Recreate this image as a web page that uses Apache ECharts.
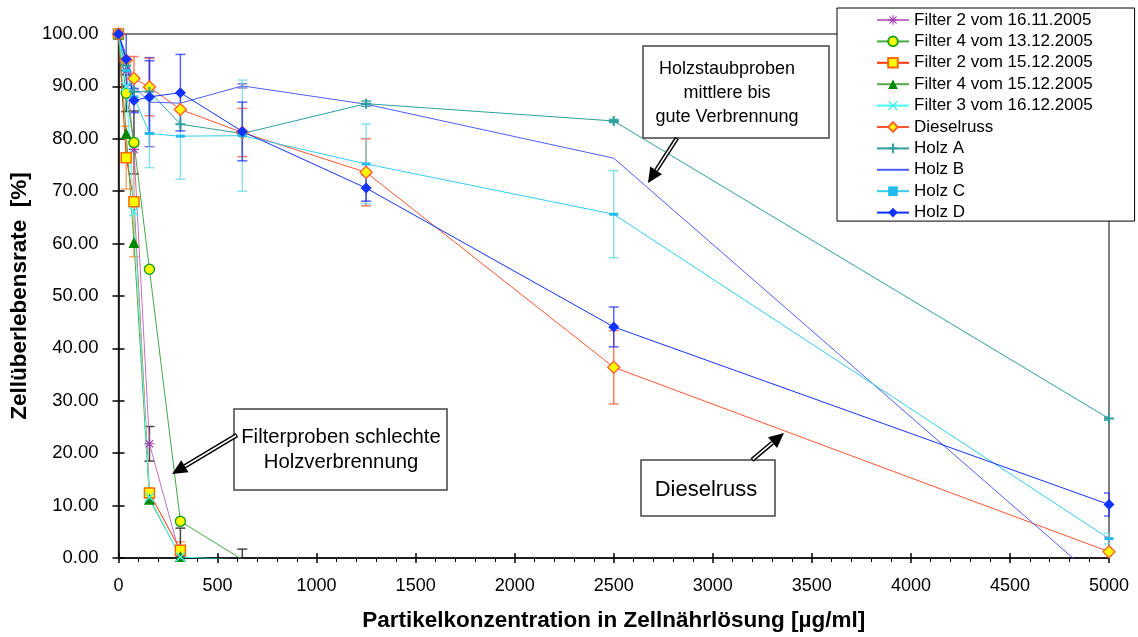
<!DOCTYPE html>
<html>
<head>
<meta charset="utf-8">
<script src="https://cdn.jsdelivr.net/npm/echarts@6/dist/echarts.min.js"></script>
<style>
  html, body { margin: 0; padding: 0; background: #fff; }
  #chart { width: 1138px; height: 637px; }
</style>
</head>
<body>
<div id="chart"></div>
<script>
// Concentrations of the dilution series [µg/ml]
const concentrations = [0, 39.0625, 78.125, 156.25, 312.5, 625, 1250, 2500, 5000];

// Cell survival rate [%] per sample
const filter2_1611 = [100, 93, 78, 21.8, 0.3];
const filter4_1312 = [100, 88.7, 79.3, 55.1, 7.0, -0.3];
const filter2_1512 = [100, 76.4, 68.0, 12.4, 1.5];
const filter4_1512 = [100, 81.0, 60.2, 11.2, 0.3];
const filter3_1612 = [100, 90, 66.1, 11.6, 0.2, -0.4];
const dieselruss   = [100, 95, 91.5, 89.9, 85.6, 81.2, 73.6, 36.4, 1.2];
const holzA        = [100, 94, 89, 89, 82.8, 81.0, 86.7, 83.4, 26.6];
const holzB        = [100, 96, 90, 87, 86.8, 90.1, 86.6, 76.3, -6];
const holzC        = [100, 93, 88, 81, 80.5, 80.6, 75.2, 65.6, 3.7];
const holzD        = [100, 95.2, 87.3, 88.0, 88.8, 81.4, 70.6, 44.1, 10.2];

// Standard deviations (null = no error bar)
const err_filter2_1611 = [5.8, null, null, 3.3, null];
const err_filter4_1312 = [null, 3.5, 6, null, null, 2.0];
const err_filter2_1512 = [null, 6, 10.5, null, 1.6];
const err_filter4_1512 = [null, null, null, null, 5.4];
const err_dieselruss   = [null, null, 4.2, 5.5, null, 4.6, 6.4, 7.0, 2.8];
const err_holzA        = [null, null, null, null, null, null, 0.5, 0.3, 0.3];
const err_holzB        = [null, null, null, 8.5, null, 0.4, null, null, null];
const err_holzC        = [null, null, null, 6.5, 8.2, 10.6, 7.6, 8.3, 1.0];
const err_holzD        = [null, 5, 2.3, 6.9, 7.3, 5.6, 2.5, 3.8, 2.2];

// Tick labels
const yTickDecimals = 2;

const pairs = (vals) => vals.map((v, i) => [concentrations[i], v]);
const errTriples = (vals, errs) =>
  errs.map((e, i) => (e == null || vals[i] == null) ? null : [concentrations[i], vals[i], e])
      .filter(d => d !== null);

// Marker shapes drawn as filled outlines
const plusPath = 'path://M4,0H6V4H10V6H6V10H4V6H0V4H4Z';
const crossPath = 'path://M1,0L5,4L9,0L10,1L6,5L10,9L9,10L5,6L1,10L0,9L4,5L0,1Z';
const starPath = 'path://M4.4,0H5.6V3.6L8.3,0.9L9.1,1.7L6.4,4.4H10V5.6H6.4L9.1,8.3L8.3,9.1L5.6,6.4V10H4.4V6.4L1.7,9.1L0.9,8.3L3.6,5.6H0V4.4H3.6L0.9,1.7L1.7,0.9L4.4,3.6Z';

function lineSeries(name, data, color, symbol, size, fill, border) {
  const noMarker = symbol === 'none';
  return {
    name, type: 'line', data: pairs(data),
    symbol: noMarker ? 'circle' : symbol, symbolSize: size, showSymbol: !noMarker,
    clip: true,
    lineStyle: { color, width: 1 },
    itemStyle: noMarker
      ? { color: 'rgba(0,0,0,0)', borderWidth: 0 }
      : { color: fill, borderColor: border || fill, borderWidth: border ? 1.5 : 0 },
    emphasis: { disabled: true },
    z: 3
  };
}

function errorSeries(data, color) {
  return {
    type: 'custom', data, clip: true, silent: true, z: 2,
    renderItem: (params, api) => {
      const x = api.value(0), y = api.value(1), e = api.value(2);
      const top = api.coord([x, y + e]);
      const bot = api.coord([x, y - e]);
      const cap = 5;
      const st = { stroke: color, lineWidth: 1.5 };
      return {
        type: 'group',
        children: [
          { type: 'line', shape: { x1: top[0], y1: top[1], x2: bot[0], y2: bot[1] }, style: st },
          { type: 'line', shape: { x1: top[0] - cap, y1: top[1], x2: top[0] + cap, y2: top[1] }, style: st },
          { type: 'line', shape: { x1: bot[0] - cap, y1: bot[1], x2: bot[0] + cap, y2: bot[1] }, style: st }
        ]
      };
    }
  };
}

// Hollow double-line arrow with a filled head
function arrow(x1, y1, x2, y2) {
  const dx = x2 - x1, dy = y2 - y1, len = Math.hypot(dx, dy);
  const ux = dx / len, uy = dy / len;
  const headL = 15, headW = 7;
  const bx = x2 - ux * headL, by = y2 - uy * headL;
  return [
    { type: 'line', shape: { x1, y1, x2: bx, y2: by }, style: { stroke: '#000', lineWidth: 4.5 }, z: 20 },
    { type: 'line', shape: { x1: x1 + ux, y1: y1 + uy, x2: bx, y2: by }, style: { stroke: '#fff', lineWidth: 1.6 }, z: 21 },
    { type: 'polygon', shape: { points: [[x2, y2], [bx - uy * headW, by + ux * headW], [bx + uy * headW, by - ux * headW]] }, style: { fill: '#000' }, z: 22 }
  ];
}

function noteBox(x, y, w, h, lines, fontSize, lineH, textX, textY) {
  return [
    { type: 'rect', shape: { x, y, width: w, height: h }, style: { fill: '#fff', stroke: '#444', lineWidth: 1.5 }, z: 18 },
    { type: 'text', x: textX, y: textY, style: { text: lines.join('\n'), font: fontSize + 'px "Liberation Sans", Arial, sans-serif', fill: '#000', align: 'center', verticalAlign: 'top', lineHeight: lineH }, z: 19 }
  ];
}

const chart = echarts.init(document.getElementById('chart'), null, { renderer: 'canvas' });

const legendNames = ['Filter 2 vom 16.11.2005', 'Filter 4 vom 13.12.2005', 'Filter 2 vom 15.12.2005',
  'Filter 4 vom 15.12.2005', 'Filter 3 vom 16.12.2005', 'Dieselruss', 'Holz A', 'Holz B', 'Holz C', 'Holz D'];

const font = '"Liberation Sans", Arial, sans-serif';
const tickStyle = { color: '#000', width: 1.5 };

chart.setOption({
  animation: false,
  backgroundColor: '#fff',
  grid: { left: 116, right: 29, top: 34, bottom: 79, show: true, borderColor: '#555', borderWidth: 1.5, backgroundColor: 'transparent' },
  legend: {
    data: legendNames,
    orient: 'vertical',
    left: 837, top: 8,
    padding: [3.5, 42, 0, 39],
    itemWidth: 32, itemHeight: 12, itemGap: 4.4,
    lineStyle: { width: 2 },
    backgroundColor: '#fff', borderColor: '#000', borderWidth: 1,
    textStyle: { fontFamily: font, fontSize: 17, color: '#000', lineHeight: 17 },
    selectedMode: false,
    z: 30
  },
  xAxis: [{
    type: 'value', min: 0, max: 5000, interval: 500,
    name: 'Partikelkonzentration in Zellnährlösung [µg/ml]',
    nameLocation: 'middle', nameGap: 51,
    nameTextStyle: { fontFamily: font, fontSize: 22.5, fontWeight: 'bold', color: '#000' },
    axisLine: { show: true, onZero: false, lineStyle: { color: '#000', width: 1.5 } },
    axisTick: { show: true, length: 5, lineStyle: tickStyle },
    minorTick: { show: true, splitNumber: 5, length: 4, lineStyle: { color: '#000', width: 1 } },
    axisLabel: { fontFamily: font, fontSize: 18, color: '#000', margin: 19, formatter: v => String(v) },
    splitLine: { show: false }
  }, {
    // inner half of the crossing major ticks
    type: 'value', min: 0, max: 5000, interval: 500, position: 'bottom',
    axisLine: { show: false, onZero: false }, axisLabel: { show: false }, splitLine: { show: false },
    axisTick: { show: true, inside: true, length: 5, lineStyle: tickStyle }
  }],
  yAxis: [{
    type: 'value', min: 0, max: 100, interval: 10,
    name: 'Zellüberlebensrate  [%]',
    nameLocation: 'middle', nameGap: 81,
    nameTextStyle: { fontFamily: font, fontSize: 22.5, fontWeight: 'bold', color: '#000' },
    axisLine: { show: true, onZero: false, lineStyle: { color: '#000', width: 1.5 } },
    axisTick: { show: true, length: 6, lineStyle: tickStyle },
    axisLabel: { fontFamily: font, fontSize: 18.5, color: '#000', margin: 20, formatter: v => v.toFixed(yTickDecimals) },
    splitLine: { show: false }
  }, {
    type: 'value', min: 0, max: 100, interval: 10, position: 'left',
    axisLine: { show: false, onZero: false }, axisLabel: { show: false }, splitLine: { show: false },
    axisTick: { show: true, inside: true, length: 6, lineStyle: tickStyle }
  }],
  series: [
    errorSeries(errTriples(filter2_1611, err_filter2_1611), 'rgba(40,40,40,0.85)'),
    errorSeries(errTriples(filter4_1312, err_filter4_1312), 'rgba(40,40,40,0.85)'),
    errorSeries(errTriples(filter2_1512, err_filter2_1512), 'rgba(255,140,60,0.75)'),
    errorSeries(errTriples(filter4_1512, err_filter4_1512), 'rgba(40,40,40,0.85)'),
    errorSeries(errTriples(dieselruss, err_dieselruss), 'rgba(255,80,50,0.75)'),
    errorSeries(errTriples(holzA, err_holzA), 'rgba(40,150,150,0.85)'),
    errorSeries(errTriples(holzB, err_holzB), 'rgba(90,80,200,0.75)'),
    errorSeries(errTriples(holzC, err_holzC), 'rgba(90,215,225,0.7)'),
    errorSeries(errTriples(holzD, err_holzD), 'rgba(30,50,255,0.75)'),
    lineSeries('Filter 2 vom 16.11.2005', filter2_1611, '#C070C8', starPath, 10, '#A040B0'),
    lineSeries('Filter 4 vom 13.12.2005', filter4_1312, '#44AA44', 'circle', 10, '#FFFF00', '#22A022'),
    lineSeries('Filter 2 vom 15.12.2005', filter2_1512, '#FF3300', 'rect', 10, '#FFFF00', '#FF6600'),
    lineSeries('Filter 4 vom 15.12.2005', filter4_1512, '#55AA44', 'triangle', 11, '#008800'),
    lineSeries('Filter 3 vom 16.12.2005', filter3_1612, '#44FFFF', crossPath, 10, '#44EEEE'),
    lineSeries('Dieselruss', dieselruss, '#FF5533', 'diamond', 12, '#FFFF00', '#FF6633'),
    lineSeries('Holz A', holzA, '#2E9E9E', plusPath, 10, '#2E9E9E'),
    lineSeries('Holz B', holzB, '#4F5CFF', 'none', 0, '#4F5CFF'),
    lineSeries('Holz C', holzC, '#33CCEE', 'rect', [9, 3], '#22BBEE'),
    lineSeries('Holz D', holzD, '#1133FF', 'diamond', 11, '#1133FF')
  ],
  graphic: [].concat(
    noteBox(643, 46, 186, 92, ['Holzstaubproben', 'mittlere bis', 'gute Verbrennung'], 18, 24, 727, 57),
    arrow(677, 138, 648, 183),
    noteBox(234, 409, 213, 81, ['Filterproben schlechte', 'Holzverbrennung'], 20.3, 25, 341, 425),
    arrow(237, 435, 172, 474),
    noteBox(641, 460, 134, 56, ['Dieselruss'], 22, 22, 706, 479),
    arrow(752, 460, 784, 433)
  )
});
</script>
</body>
</html>
